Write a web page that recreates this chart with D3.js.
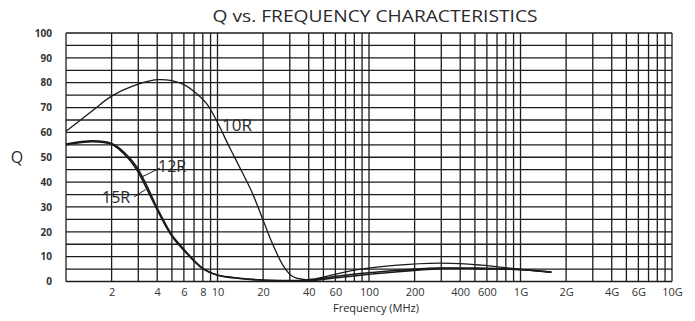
<!DOCTYPE html>
<html>
<head>
<meta charset="utf-8">
<script src="https://cdn.jsdelivr.net/npm/d3@7"></script>
<style>
  body { margin: 0; background: #fff; }
  text { font-family: "Open Sans", "DejaVu Sans", sans-serif; fill: #2a2a2a; }
</style>
</head>
<body>
<div id="chart"></div>
<script>
// data
const freq10R = [1, 1.5, 2, 3, 4, 5, 6, 7, 8.5, 10, 12, 14, 17, 20, 23, 27, 31, 36, 42, 50, 80, 130, 250, 400, 550, 850, 1200, 1600];
const q10R = [60.5, 68.8, 74.6, 79.4, 81.2, 80.8, 79.2, 76.5, 71.5, 64, 54, 46, 35.5, 24.7, 15.4, 6.6, 2.2, 0.9, 0.9, 1.8, 4.6, 6.2, 7.3, 7.2, 6.6, 5.4, 4.4, 3.7];

const freqLow = [1, 1.5, 2, 2.4, 2.9, 3.4, 4, 4.6, 5.1, 6.2, 7, 8, 10, 14, 20, 30, 40, 63, 135, 290, 500, 1000, 1600];
const q12R = [55.3, 56.6, 55.5, 52.2, 46.5, 38.8, 29.5, 22.5, 18, 12, 8.5, 5.3, 2.6, 1.3, 0.6, 0.4, 0.5, 2.2, 4.2, 5.4, 5.3, 4.8, 3.8];
const q15R = [55.0, 56.3, 55.2, 51.5, 45.5, 37.5, 28.8, 21.8, 17.5, 11.6, 8.2, 5.1, 2.5, 1.2, 0.5, 0.3, 0.3, 1.6, 3.6, 5.2, 5.3, 4.7, 3.8];

const xTickValues = [2, 4, 6, 8, 10, 20, 40, 60, 100, 200, 400, 600, 1000, 2000, 4000, 6000, 10000];
const xTickLabels = ["2", "4", "6", "8", "10", "20", "40", "60", "100", "200", "400", "600", "1G", "2G", "4G", "6G", "10G"];
const yTickValues = [0, 10, 20, 30, 40, 50, 60, 70, 80, 90, 100];

const W = 695, H = 321;
const svg = d3.select("#chart").append("svg").attr("width", W).attr("height", H);

const x = d3.scaleLog().domain([1, 10000]).range([66, 672]);
const y = d3.scaleLinear().domain([0, 100]).range([281.5, 33]);

// grid: every 1..9 in each decade, every 5 on Q
const vLines = [];
for (let d = 1; d < 10000; d *= 10) for (let m = 1; m < 10; m++) vLines.push(d * m);
vLines.push(10000);
const hLines = d3.range(0, 101, 5);

const grid = svg.append("g").attr("stroke", "#1c1c1c").attr("stroke-width", 1.3);
grid.selectAll(".v").data(vLines).enter().append("line")
  .attr("x1", d => x(d)).attr("x2", d => x(d))
  .attr("y1", y(100)).attr("y2", y(0));
grid.selectAll(".h").data(hLines).enter().append("line")
  .attr("x1", x(1)).attr("x2", x(10000))
  .attr("y1", d => y(d)).attr("y2", d => y(d));

// axes (labels only)
const xAxis = svg.append("g")
  .attr("transform", `translate(0,${y(0)})`)
  .call(d3.axisBottom(x).tickValues(xTickValues).tickSize(0).tickPadding(7)
    .tickFormat((d, i) => xTickLabels[i]));
xAxis.select(".domain").remove();
xAxis.selectAll("text").style("font-size", "11px").style("fill", "#333");

const yAxis = svg.append("g")
  .attr("transform", `translate(${x(1)},0)`)
  .call(d3.axisLeft(y).tickValues(yTickValues).tickSize(0).tickPadding(14));
yAxis.select(".domain").remove();
yAxis.selectAll("text").style("font-size", "10px").style("font-weight", "bold").style("fill", "#333");

// curves
const line = d3.line().x(d => x(d[0])).y(d => y(d[1])).curve(d3.curveCatmullRom.alpha(0.5));
svg.append("path").datum(d3.zip(freq10R, q10R)).attr("d", line)
  .attr("fill", "none").attr("stroke", "#1a1a1a").attr("stroke-width", 1.3);
svg.append("path").datum(d3.zip(freqLow, q12R)).attr("d", line)
  .attr("fill", "none").attr("stroke", "#1a1a1a").attr("stroke-width", 1.6);
svg.append("path").datum(d3.zip(freqLow, q15R)).attr("d", line)
  .attr("fill", "none").attr("stroke", "#1a1a1a").attr("stroke-width", 1.6);

// curve labels
svg.append("text").attr("x", 222).attr("y", 131).text("10R").style("font-size", "17px");
svg.append("text").attr("x", 158).attr("y", 172).text("12R").style("font-size", "16px");
svg.append("text").attr("x", 102).attr("y", 203).text("15R").style("font-size", "16px");
svg.append("line").attr("x1", x(3.15)).attr("y1", y(42)).attr("x2", 160).attr("y2", 168)
  .attr("stroke", "#1a1a1a").attr("stroke-width", 1);
svg.append("line").attr("x1", 134).attr("y1", 197).attr("x2", x(3.35)).attr("y2", y(37))
  .attr("stroke", "#1a1a1a").attr("stroke-width", 1);

// titles
svg.append("text").attr("x", 375).attr("y", 22).attr("text-anchor", "middle")
  .attr("textLength", 325).attr("lengthAdjust", "spacingAndGlyphs")
  .style("font-size", "16px").text("Q vs. FREQUENCY  CHARACTERISTICS");
svg.append("text").attr("x", 17).attr("y", 163).attr("text-anchor", "middle")
  .style("font-size", "16px").text("Q");
svg.append("text").attr("x", 376).attr("y", 312).attr("text-anchor", "middle")
  .style("font-size", "11px").text("Frequency (MHz)");
</script>
</body>
</html>
